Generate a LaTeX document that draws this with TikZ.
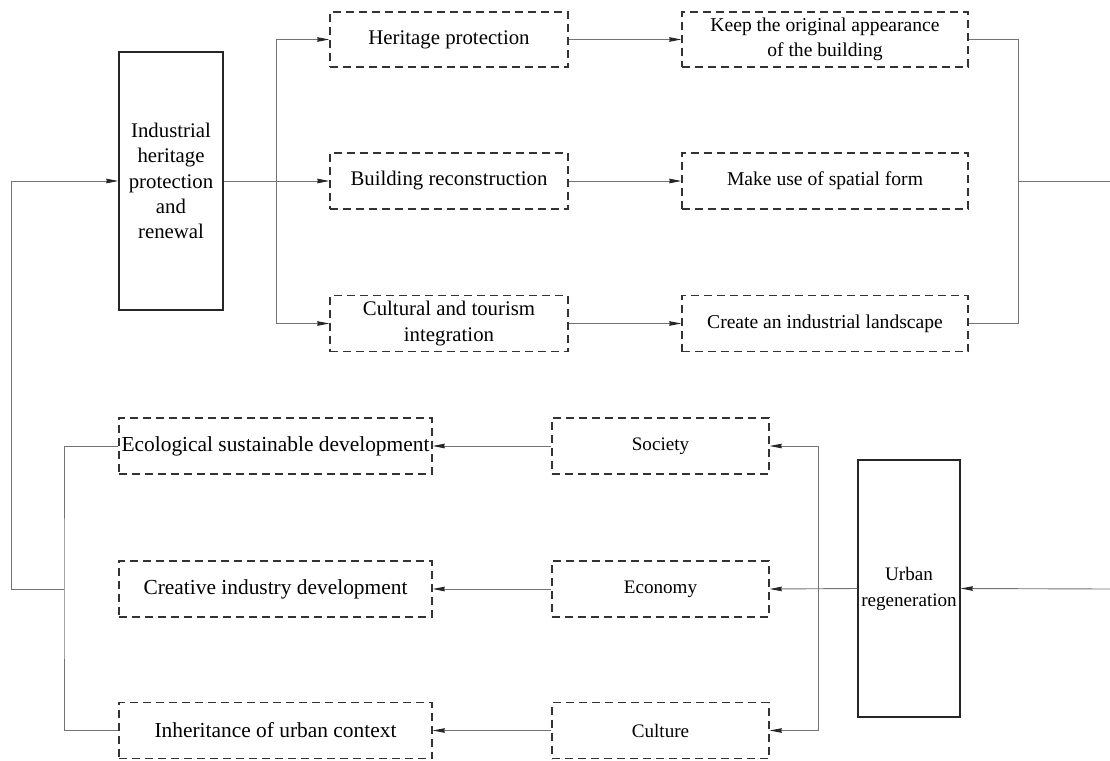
\documentclass[tikz,border=0pt]{standalone}
\usepackage{fontspec}
\setmainfont{Liberation Serif}
\usetikzlibrary{arrows.meta}
\begin{document}
\begin{tikzpicture}[x=1pt,y=-1pt,
  every node/.style={inner sep=0pt, align=center, font=\fontsize{20}{25}\selectfont},
  fa/.style={font=\fontsize{20.8}{25.3}\selectfont},
  fb/.style={font=\fontsize{19.6}{25}\selectfont},
  fc/.style={font=\fontsize{21.4}{25}\selectfont},
  fd/.style={font=\fontsize{19.1}{26}\selectfont},
  solidbox/.style={draw=black!85, line width=1.4pt},
  dashbox/.style={draw=black!80, line width=1.4pt, dash pattern=on 8pt off 5pt},
  conn/.style={draw=black!55, line width=0.9pt},
  arr/.style={conn, -{Stealth[length=12pt,width=4.5pt,inset=0.5pt,color=black!85]}}]
\fill[white] (0,0) rectangle (1110,760);
\useasboundingbox (0,0) rectangle (1110,760);
% top part
\node[solidbox, fa, minimum width=104pt, minimum height=258pt] (ind) at (171,181) {Industrial\\heritage\\protection\\and\\renewal};
\node[dashbox, fa, minimum width=238pt, minimum height=55pt] (her) at (449,39.5) {Heritage protection};
\node[dashbox, fa, minimum width=238pt, minimum height=56pt] (bld) at (449,181) {Building reconstruction};
\node[dashbox, fa, minimum width=238pt, minimum height=56pt] (cul) at (449,323.5) {Cultural and tourism\\integration};
\node[dashbox, fb, minimum width=286pt, minimum height=55pt] (keep) at (825,39.5) {Keep the original appearance\\of the building};
\node[dashbox, fb, minimum width=286pt, minimum height=56pt] (use) at (825,181) {Make use of spatial form};
\node[dashbox, fb, minimum width=286pt, minimum height=56pt] (crt) at (825,323.5) {Create an industrial landscape};
% bottom part
\node[dashbox, fc, minimum width=313pt, minimum height=56pt] (eco) at (275.5,446) {Ecological sustainable development};
\node[dashbox, fc, minimum width=313pt, minimum height=56pt] (cre) at (275.5,589) {Creative industry development};
\node[dashbox, fc, minimum width=313pt, minimum height=56pt] (inh) at (275.5,730.5) {Inheritance of urban context};
\node[dashbox, fd, minimum width=217pt, minimum height=56pt] (soc) at (660.5,446) {Society};
\node[dashbox, fd, minimum width=217pt, minimum height=56pt] (econ) at (660.5,589) {Economy};
\node[dashbox, fd, minimum width=217pt, minimum height=56pt] (cult) at (660.5,730.5) {Culture};
\node[solidbox, fd, minimum width=102pt, minimum height=257pt] (urb) at (909,588.5) {\raisebox{-4pt}{\parbox{100pt}{\centering Urban\\regeneration}}};
% coordinates
\coordinate (split) at (276,181);
\coordinate (rjoin) at (1018,181);
\coordinate (outR) at (1110,181);
\coordinate (inR) at (1110,589);
\coordinate (bsplit) at (818,589);
\coordinate (ljoin) at (64,589);
\coordinate (lcorner) at (11,589);
% top connectors
\draw[arr] (ind.east) -- (bld.west);
\draw[arr] (split) |- (her.west);
\draw[arr] (split) |- (cul.west);
\draw[arr] (her.east) -- (keep.west);
\draw[arr] (bld.east) -- (use.west);
\draw[arr] (cul.east) -- (crt.west);
\draw[conn] (keep.east) -| (rjoin) |- (crt.east);
\draw[conn] (rjoin) -- (outR);
% bottom connectors
\draw[arr] (inR) -- (urb.east);
\draw[arr] (urb.west) -- (econ.east);
\draw[arr] (bsplit) |- (soc.east);
\draw[arr] (bsplit) |- (cult.east);
\draw[arr] (soc.west) -- (eco.east);
\draw[arr] (econ.west) -- (cre.east);
\draw[arr] (cult.west) -- (inh.east);
\draw[conn] (eco.west) -| (ljoin) |- (inh.west);
\draw[arr] (ljoin) -- (lcorner) |- (ind.west);
\end{tikzpicture}
\end{document}
